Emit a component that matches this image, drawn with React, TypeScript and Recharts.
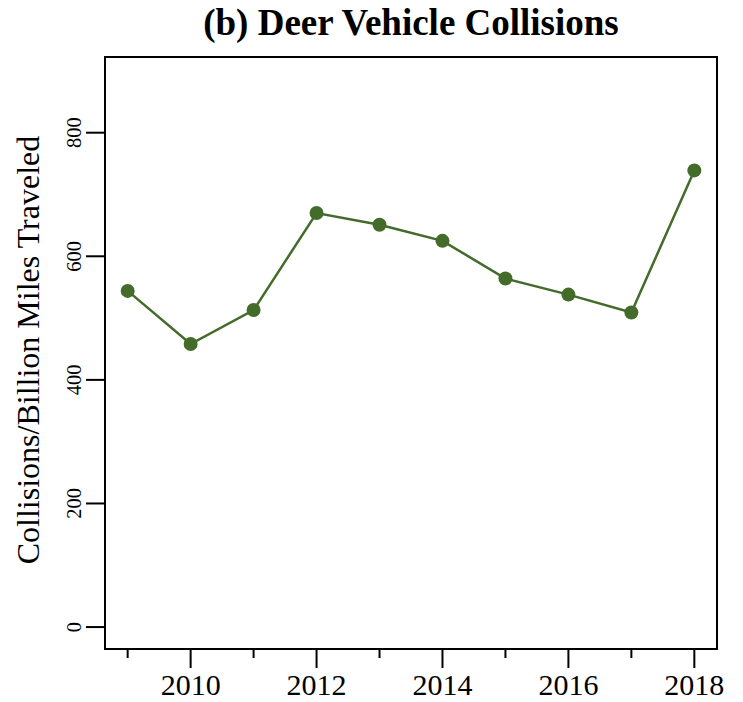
import React from "react";
import { Line, LineChart, ReferenceArea, XAxis, YAxis } from "recharts";

const years = [2009, 2010, 2011, 2012, 2013, 2014, 2015, 2016, 2017, 2018];
const collisions = [544, 458, 513, 670, 651, 625, 564, 538, 509, 739];
const yTicks = [0, 200, 400, 600, 800];

const data = years.map((year, i) => ({ year, value: collisions[i] }));

const X_DOMAIN: [number, number] = [2008.64, 2018.36];
const Y_DOMAIN: [number, number] = [-35.5, 922.5];

const GREEN = "#436b2a";
const FONT = "'Liberation Serif', 'Times New Roman', serif";

function XTick(props: any) {
  const { x, y, payload } = props;
  const major = payload.value % 2 === 0;
  return (
    <g>
      <line x1={x} x2={x} y1={y} y2={y + (major ? 19 : 9)} stroke="#000" strokeWidth={2} />
      {major && (
        <text x={x} y={y + 46} textAnchor="middle" fontFamily={FONT} fontSize={30} fill="#000">
          {payload.value}
        </text>
      )}
    </g>
  );
}

function YTick(props: any) {
  const { x, y, payload } = props;
  return (
    <g>
      <line x1={x - 19} x2={x} y1={y} y2={y} stroke="#000" strokeWidth={2} />
      <text
        x={x - 24}
        y={y}
        transform={`rotate(-90, ${x - 24}, ${y})`}
        textAnchor="middle"
        fontFamily={FONT}
        fontSize={20.5}
        fill="#000"
      >
        {payload.value}
      </text>
    </g>
  );
}

export default function App() {
  return (
    <div style={{ position: "absolute", left: 0, top: 0, width: 743, height: 702, background: "#fff" }}>
      <LineChart width={743} height={702} data={data} margin={{ top: 57, right: 26, bottom: 0, left: 0 }}>
        <XAxis
          dataKey="year"
          type="number"
          domain={X_DOMAIN}
          ticks={years}
          interval={0}
          height={53}
          tickSize={0}
          tickMargin={0}
          tickLine={false}
          axisLine={false}
          tick={<XTick />}
        />
        <YAxis
          type="number"
          domain={Y_DOMAIN}
          ticks={yTicks}
          interval={0}
          width={105}
          tickSize={0}
          tickMargin={0}
          tickLine={false}
          axisLine={false}
          tick={<YTick />}
        />
        <ReferenceArea
          x1={X_DOMAIN[0]}
          x2={X_DOMAIN[1]}
          y1={Y_DOMAIN[0]}
          y2={Y_DOMAIN[1]}
          fill="none"
          stroke="#000"
          strokeWidth={2}
          ifOverflow="visible"
        />
        <Line
          dataKey="value"
          stroke={GREEN}
          strokeWidth={2.5}
          dot={{ r: 7, fill: GREEN, stroke: "none" }}
          isAnimationActive={false}
        />
      </LineChart>
      <svg width={743} height={702} style={{ position: "absolute", left: 0, top: 0, pointerEvents: "none" }}>
        <text x={411} y={35} textAnchor="middle" fontFamily={FONT} fontWeight="bold" fontSize={37} fill="#000">
          (b) Deer Vehicle Collisions
        </text>
        <text
          x={39}
          y={350}
          transform="rotate(-90, 39, 350)"
          textAnchor="middle"
          fontFamily={FONT}
          fontSize={32}
          fill="#000"
        >
          Collisions/Billion Miles Traveled
        </text>
      </svg>
    </div>
  );
}
